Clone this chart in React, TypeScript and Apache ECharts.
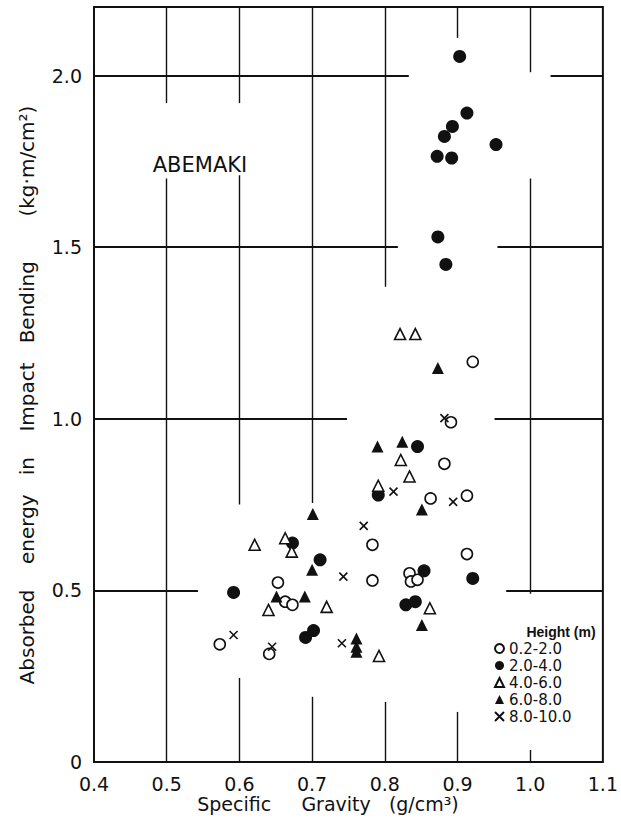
import React, { useEffect, useRef } from "react";
import * as echarts from "echarts";

// Series names (legend: Height (m))
const seriesNames = ["0.2-2.0", "2.0-4.0", "4.0-6.0", "6.0-8.0", "8.0-10.0"];

// Specific gravity (g/cm3), absorbed energy (kg·m/cm2)
const h02to20: [number, number][] = [
  [0.921, 1.166], [0.891, 0.99], [0.882, 0.869], [0.863, 0.768], [0.913, 0.776],
  [0.783, 0.633], [0.913, 0.606], [0.783, 0.529], [0.834, 0.55], [0.836, 0.526],
  [0.845, 0.531], [0.653, 0.523], [0.663, 0.467], [0.673, 0.458], [0.573, 0.343],
  [0.641, 0.315],
];
const h20to40: [number, number][] = [
  [0.903, 2.056], [0.913, 1.891], [0.893, 1.852], [0.882, 1.823], [0.953, 1.799],
  [0.872, 1.765], [0.892, 1.76], [0.873, 1.53], [0.884, 1.45], [0.845, 0.919],
  [0.791, 0.778], [0.854, 0.557], [0.921, 0.535], [0.829, 0.458], [0.842, 0.467],
  [0.673, 0.638], [0.711, 0.589], [0.592, 0.494], [0.702, 0.383], [0.691, 0.363],
];
const h40to60: [number, number][] = [
  [0.821, 1.247], [0.842, 1.247], [0.822, 0.88], [0.834, 0.832], [0.791, 0.805],
  [0.862, 0.448], [0.792, 0.309], [0.72, 0.452], [0.621, 0.633], [0.663, 0.652],
  [0.672, 0.613], [0.64, 0.443],
];
const h60to80: [number, number][] = [
  [0.873, 1.148], [0.79, 0.919], [0.824, 0.933], [0.851, 0.736], [0.851, 0.399],
  [0.761, 0.36], [0.761, 0.336], [0.761, 0.321], [0.701, 0.723], [0.7, 0.56],
  [0.651, 0.482], [0.69, 0.482],
];
const h80to100: [number, number][] = [
  [0.882, 1.002], [0.812, 0.788], [0.894, 0.758], [0.771, 0.688], [0.743, 0.54],
  [0.741, 0.346], [0.592, 0.37], [0.645, 0.336],
];

// Broken grid lines as drawn: [x, yFrom, yTo] and [y, xFrom, xTo]
const vGridSegments: [number, number, number][] = [
  [0.5, 2.2, 1.92], [0.5, 1.7, 0],
  [0.6, 2.2, 1.92], [0.6, 1.71, 0.75], [0.6, 0.245, 0],
  [0.7, 2.2, 0.755], [0.7, 0.19, 0],
  [0.8, 2.2, 1.385], [0.8, 0.175, 0],
  [0.9, 2.2, 2.11], [0.9, 0.146, 0],
  [1.0, 2.2, 2.01], [1.0, 1.7, 0.49], [1.0, 0.035, 0],
];
const hGridSegments: [number, number, number][] = [
  [2.0, 0.4, 0.833], [2.0, 1.028, 1.1],
  [1.5, 0.4, 0.818], [1.5, 0.955, 1.1],
  [1.0, 0.4, 0.748], [1.0, 0.951, 1.1],
  [0.5, 0.4, 0.543], [0.5, 0.967, 1.1],
];

const INK = "#111";
const FONT = "DejaVu Sans";

export default function App() {
  const ref = useRef<HTMLDivElement>(null);

  useEffect(() => {
    if (!ref.current) return;
    const chart = echarts.init(ref.current, undefined, { renderer: "svg" });

    const openStyle = { color: "#fff", borderColor: INK, borderWidth: 1.6, opacity: 1 };
    const fillStyle = { color: INK, borderColor: INK, borderWidth: 0, opacity: 1 };

    chart.setOption({
      animation: false,
      backgroundColor: "#fff",
      grid: {
        left: 94,
        right: 10,
        top: 7,
        bottom: 65,
        show: true,
        borderColor: INK,
        borderWidth: 2,
        backgroundColor: "transparent",
      },
      xAxis: {
        type: "value",
        min: 0.4,
        max: 1.1,
        interval: 0.1,
        axisLine: { show: false },
        axisTick: { show: false },
        splitLine: { show: false },
        axisLabel: {
          formatter: (v: number) => v.toFixed(1),
          fontSize: 19,
          fontFamily: FONT,
          color: INK,
          margin: 12,
        },
      },
      yAxis: {
        type: "value",
        min: 0,
        max: 2.2,
        interval: 0.5,
        axisLine: { show: false },
        axisTick: { show: false },
        splitLine: { show: false },
        axisLabel: {
          showMaxLabel: false,
          formatter: (v: number) => (v === 0 ? "0" : v.toFixed(1)),
          fontSize: 19,
          fontFamily: FONT,
          color: INK,
          margin: 12,
        },
      },
      legend: {
        data: seriesNames,
        orient: "vertical",
        left: 494,
        top: 641,
        padding: 0,
        itemWidth: 9,
        itemHeight: 9,
        itemGap: 2,
        selectedMode: false,
        textStyle: {
          fontSize: 15,
          lineHeight: 15,
          fontFamily: FONT,
          color: INK,
        },
      },
      graphic: [
        {
          type: "text",
          x: 200,
          y: 165,
          style: {
            text: "ABEMAKI",
            fontSize: 21,
            fontFamily: FONT,
            fill: INK,
            align: "center",
            verticalAlign: "middle",
          },
        },
        {
          type: "text",
          x: 561,
          y: 632,
          style: {
            text: "Height (m)",
            fontSize: 14,
            fontWeight: "bold",
            fontFamily: "Liberation Sans Narrow, Liberation Sans",
            fill: INK,
            align: "center",
            verticalAlign: "middle",
          },
        },
        {
          type: "text",
          x: 27,
          y: 395,
          rotation: Math.PI / 2,
          style: {
            text: "Absorbed    energy   in    Impact   Bending       (kg·m/cm²)",
            fontSize: 20,
            fontFamily: FONT,
            fill: INK,
            align: "center",
            verticalAlign: "middle",
          },
        },
        {
          type: "text",
          x: 328,
          y: 804,
          style: {
            text: "Specific     Gravity   (g/cm³)",
            fontSize: 19,
            fontFamily: FONT,
            fill: INK,
            align: "center",
            verticalAlign: "middle",
          },
        },
      ],
      series: [
        {
          type: "scatter",
          name: "vgrid",
          data: [],
          z: 1,
          silent: true,
          markLine: {
            silent: true,
            symbol: ["none", "none"],
            label: { show: false },
            lineStyle: { color: INK, type: "solid", width: 1.4, opacity: 1 },
            data: vGridSegments.map(([x, y1, y2]) => [
              { coord: [x, y1] },
              { coord: [x, y2] },
            ]),
          },
        },
        {
          type: "scatter",
          name: "hgrid",
          data: [],
          z: 1,
          silent: true,
          markLine: {
            silent: true,
            symbol: ["none", "none"],
            label: { show: false },
            lineStyle: { color: INK, type: "solid", width: 2, opacity: 1 },
            data: hGridSegments.map(([y, x1, x2]) => [
              { coord: [x1, y] },
              { coord: [x2, y] },
            ]),
          },
        },
        {
          type: "scatter",
          name: seriesNames[0],
          data: h02to20,
          symbol: "circle",
          symbolSize: 11,
          itemStyle: openStyle,
          z: 3,
        },
        {
          type: "scatter",
          name: seriesNames[1],
          data: h20to40,
          symbol: "circle",
          symbolSize: 13,
          itemStyle: fillStyle,
          z: 3,
        },
        {
          type: "scatter",
          name: seriesNames[2],
          data: h40to60,
          symbol: "triangle",
          symbolSize: 11,
          itemStyle: openStyle,
          z: 3,
        },
        {
          type: "scatter",
          name: seriesNames[3],
          data: h60to80,
          symbol: "triangle",
          symbolSize: 12,
          itemStyle: fillStyle,
          z: 3,
        },
        {
          type: "scatter",
          name: seriesNames[4],
          data: h80to100,
          symbol: "path://M0,0L10,10M10,0L0,10",
          symbolSize: 8,
          itemStyle: { color: INK, borderColor: INK, borderWidth: 1.6, opacity: 1 },
          z: 3,
        },
      ],
    });

    return () => chart.dispose();
  }, []);

  return (
    <div
      ref={ref}
      style={{ position: "fixed", left: 0, top: 0, width: 621, height: 827, background: "#fff" }}
    />
  );
}
